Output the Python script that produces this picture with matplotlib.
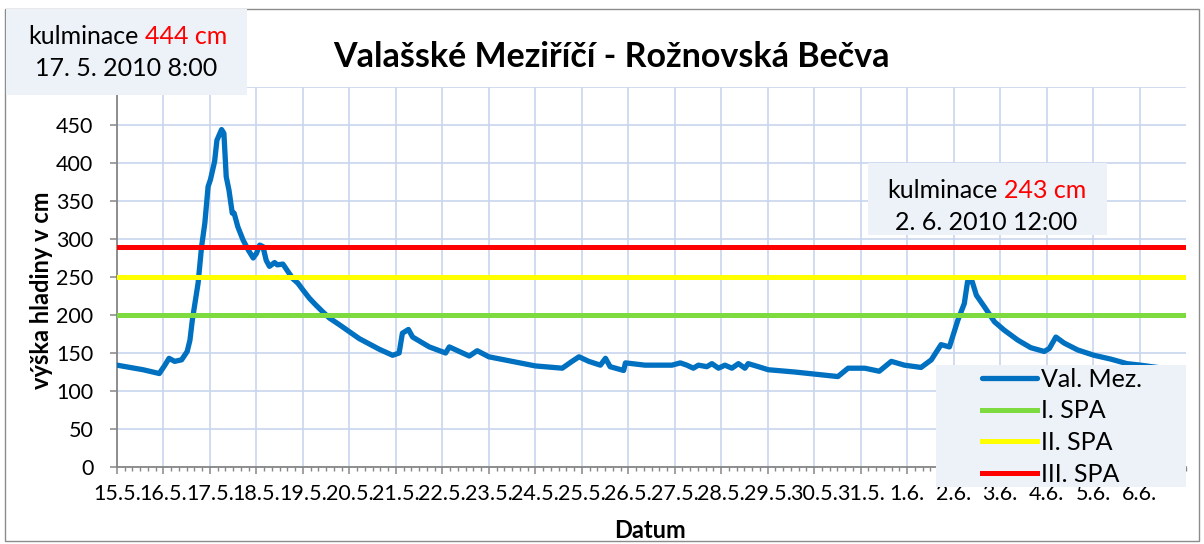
import matplotlib
matplotlib.use('Agg')
import matplotlib.pyplot as plt
from matplotlib.patches import Rectangle
from matplotlib.ticker import MultipleLocator

W, H = 1204, 544

# popisky dnu na ose x (15.5. - 6.6.2010)
day_labels = ['15.5.', '16.5.', '17.5.', '18.5.', '19.5.', '20.5.', '21.5.', '22.5.',
              '23.5.', '24.5.', '25.5.', '26.5.', '27.5.', '28.5.', '29.5.', '30.5.',
              '31.5.', '1.6.', '2.6.', '3.6.', '4.6.', '5.6.', '6.6.']

# cas ve dnech od 15.5. 0:00 a vyska hladiny v cm
t_days = [0.00, 0.56, 0.91, 1.03, 1.12, 1.24, 1.39, 1.51, 1.57, 1.62,
          1.745, 1.82, 1.89, 1.96, 2.01, 2.10, 2.15, 2.25, 2.30, 2.35,
          2.41, 2.48, 2.52, 2.60, 2.71, 2.82, 2.93, 3.00, 3.07, 3.14,
          3.21, 3.28, 3.39, 3.45, 3.57, 3.68, 3.78, 3.89, 4.00, 4.14,
          4.28, 4.43, 4.57, 4.79, 5.00, 5.21, 5.64, 5.93, 6.07, 6.14,
          6.27, 6.36, 6.72, 7.07, 7.15, 7.58, 7.75, 8.00, 8.50, 9.00,
          9.58, 9.79, 9.94, 10.15, 10.40, 10.51, 10.61, 10.90, 10.94, 11.36,
          11.94, 12.12, 12.26, 12.40, 12.51, 12.69, 12.80, 12.94, 13.08, 13.23,
          13.37, 13.51, 13.58, 13.80, 14.01, 14.58, 15.51, 15.73, 16.09, 16.40,
          16.66, 16.94, 17.30, 17.52, 17.73, 17.91, 18.09, 18.23, 18.30, 18.40,
          18.49, 18.66, 18.88, 19.09, 19.38, 19.66, 19.95, 20.06, 20.20, 20.38,
          20.67, 21.02, 21.38, 21.73, 22.02, 22.50, 22.90]
level_cm = [134, 128, 123, 134, 143, 139, 141, 152, 167, 193,
            242, 290, 321, 369, 378, 402, 430, 444, 439, 382,
            364, 334, 334, 316, 299, 286, 275, 281, 292, 290,
            272, 264, 269, 266, 267, 257, 248, 242, 233, 222,
            213, 204, 196, 187, 178, 169, 155, 147, 150, 176,
            181, 171, 158, 150, 158, 146, 153, 145, 139, 133,
            130, 139, 145, 139, 134, 143, 132, 127, 137, 134,
            134, 137, 134, 130, 134, 132, 136, 130, 134, 130,
            136, 130, 136, 132, 128, 125, 119, 130, 130, 126,
            139, 134, 131, 141, 161, 158, 193, 215, 244, 244,
            226, 211, 191, 180, 167, 157, 152, 156, 171, 163,
            154, 147, 142, 136, 134, 130, 127]

spa_levels = [200, 250, 290]
spa_names = ['I. SPA', 'II. SPA', 'III. SPA']
spa_colors = ['#7ddb3f', '#ffff00', '#ff0000']

plt.rcParams['font.family'] = ['Lato', 'DejaVu Sans']


def fx(x):
    return x / W


def fy(y):
    return 1 - y / H


fig = plt.figure(figsize=(W / 100, H / 100), dpi=100)
ax = fig.add_axes([fx(117), fy(467), fx(1186 - 117), (467 - 87) / H])

line_main, = ax.plot(t_days, level_cm, color='#0070c0', lw=3.8, zorder=3,
                     solid_joinstyle='round', solid_capstyle='round', label='Val. Mez.')
spa_lines = []
for lvl, name, col in zip(spa_levels, spa_names, spa_colors):
    ln = ax.axhline(lvl, color=col, lw=3.6, zorder=4, label=name)
    spa_lines.append(ln)

ax.set_xlim(0, 23)
ax.set_ylim(0, 500)
ax.set_xticks(range(len(day_labels)))
ax.set_xticklabels(day_labels)
ax.xaxis.set_minor_locator(MultipleLocator(1 / 6))
ax.set_yticks(range(0, 451, 50))

grid_col = '#c8d5ee'
ax.grid(True, which='major', color=grid_col, lw=1.2, zorder=0)
ax.axhline(500, color=grid_col, lw=1.2, zorder=0)
ax.set_axisbelow(True)

for s in ['top', 'right']:
    ax.spines[s].set_visible(False)
for s in ['left', 'bottom']:
    ax.spines[s].set_color('#868686')
    ax.spines[s].set_linewidth(1.3)

ax.tick_params(axis='both', which='major', direction='out', length=5, width=1.1,
               color='#868686', labelsize=15.5)
ax.tick_params(axis='x', which='minor', direction='out', length=3, width=1.0, color='#868686')
ax.tick_params(axis='x', which='major', pad=7)
ax.tick_params(axis='y', which='major', pad=12)

fig.text(fx(42), fy(290), 'výška hladiny v cm', rotation=90, ha='center', va='center',
         fontsize=17, fontweight='bold')
fig.text(fx(650), fy(530), 'Datum', ha='center', va='center', fontsize=17, fontweight='bold')
fig.text(fx(611), fy(57), 'Valašské Meziříčí - Rožnovská Bečva', ha='center', va='center',
         fontsize=24.5, fontweight='bold')

# ramecek celeho grafu
fig.add_artist(Rectangle((fx(5), fy(541)), fx(1199 - 5), (541 - 9) / H, transform=fig.transFigure,
                         fill=False, edgecolor='#8c8c8c', lw=1.0, zorder=1))

box_col = '#edf2f8'


def kulminace_box(x0, y0, x1, y1, split_x, value_txt, date_txt, date_x, y_l1, y_l2):
    fig.add_artist(Rectangle((fx(x0), fy(y1)), fx(x1 - x0), (y1 - y0) / H,
                             transform=fig.transFigure, facecolor=box_col, edgecolor='none', zorder=6))
    fig.text(fx(split_x - 3), fy(y_l1), 'kulminace', ha='right', va='center', fontsize=18, zorder=7)
    fig.text(fx(split_x + 3), fy(y_l1), value_txt, ha='left', va='center', fontsize=18,
             color='#ff0000', zorder=7)
    fig.text(fx(date_x), fy(y_l2), date_txt, ha='center', va='center', fontsize=18, zorder=7)


kulminace_box(6, 9, 247, 95, 142, '444 cm', '17. 5. 2010 8:00', 126, 37, 68)
kulminace_box(868, 163, 1107, 235, 1001, '243 cm', '2. 6. 2010 12:00', 986, 191, 222)

# legenda
fig.add_artist(Rectangle((fx(936), fy(487)), fx(1186 - 936), (487 - 365) / H,
                         transform=fig.transFigure, facecolor=box_col, edgecolor='none', zorder=6))
leg = fig.legend(handles=[line_main] + spa_lines, loc='upper left',
                 bbox_to_anchor=(fx(982), fy(368)), frameon=False, fontsize=18,
                 handlelength=2.2, handletextpad=0.15, labelspacing=0.34,
                 borderpad=0, borderaxespad=0)
leg.set_zorder(7)

fig.savefig('out.png', dpi=100)
